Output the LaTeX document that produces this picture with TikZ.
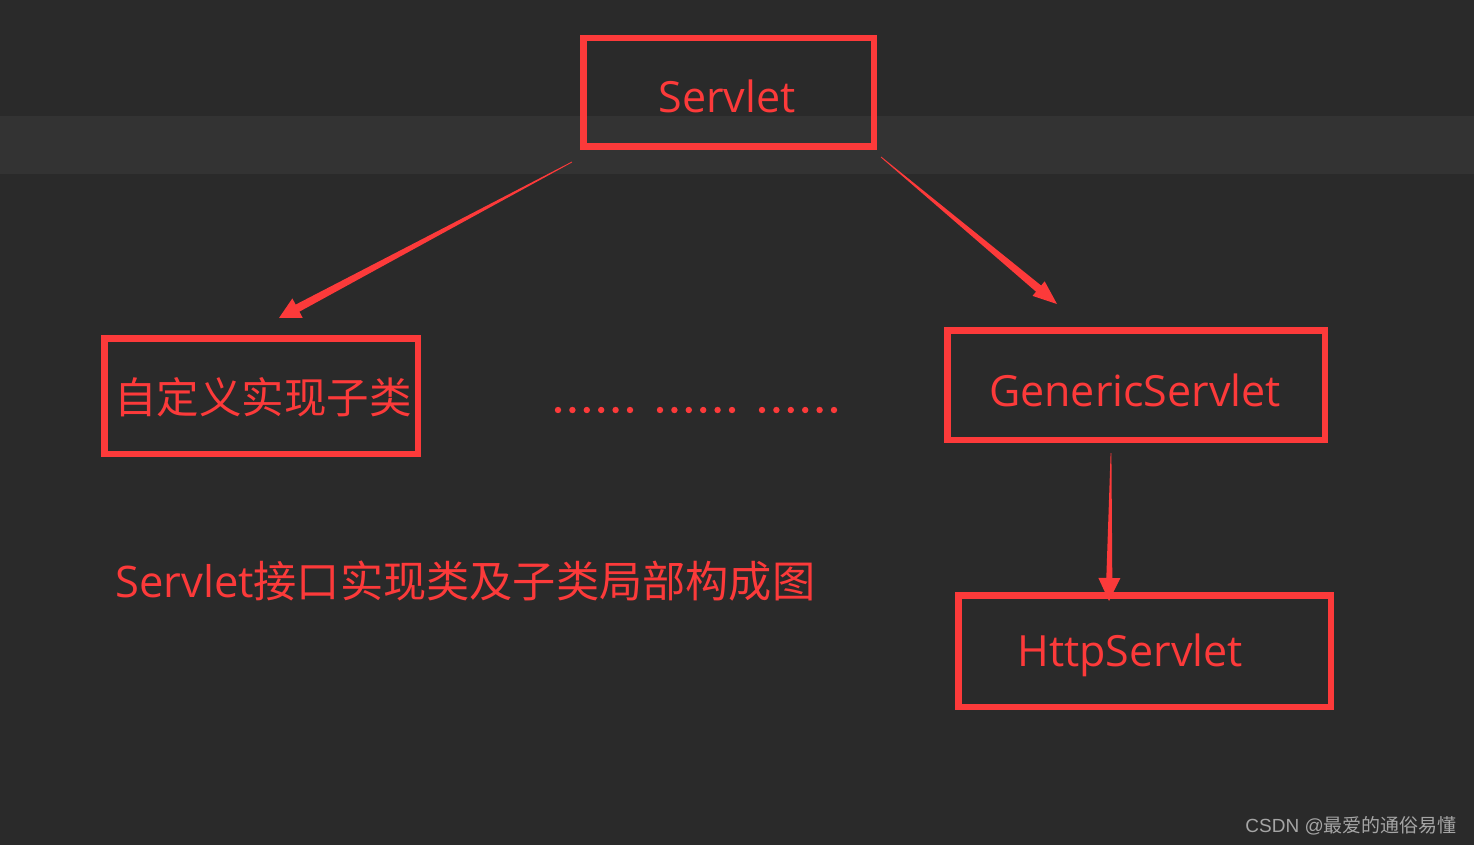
\documentclass[tikz,border=0pt]{standalone}
\usepackage{fontspec}
\setmainfont{Open Sans}
\newfontfamily\cjk{Noto Sans CJK SC}
\newfontfamily\wmlat{Liberation Sans}
\usetikzlibrary{calc}
\definecolor{bg}{RGB}{42,42,42}
\definecolor{bandc}{RGB}{51,51,51}
\definecolor{rd}{RGB}{252,58,58}
\definecolor{wm}{RGB}{165,165,165}
\newcommand\taperarrow[6]{%
  \coordinate (hb) at ($(#2)!#5!(#1)$);
  \fill[rd] ($(#1)!#3!90:(#2)$) -- ($(hb)!#4!90:(#2)$) -- ($(hb)!#6!90:(#2)$) -- (#2)
    -- ($(hb)!#6!-90:(#2)$) -- ($(hb)!#4!-90:(#2)$) -- ($(#1)!#3!-90:(#2)$) -- cycle;}
\begin{document}
\begin{tikzpicture}[x=1pt,y=-1pt,
  box/.style={draw=rd,line width=6.5pt,inner sep=0pt},
  lbl/.style={text=rd,font=\fontsize{43}{50}\selectfont,inner sep=0pt},
  cjklbl/.style={text=rd,font=\cjk\fontsize{42.5}{50}\selectfont,inner sep=0pt},
  dotc/.style={fill=rd}]
\fill[bg] (0,0) rectangle (1474,845);
\fill[bandc] (0,116) rectangle (1474,174);
\useasboundingbox (0,0) rectangle (1474,845);
% boxes
\node[box,minimum width=290.5pt,minimum height=108.5pt] (servlet) at (728.5,92.5) {};
\node[box,minimum width=313.5pt,minimum height=115.5pt] (custom) at (261,396) {};
\node[box,minimum width=377.5pt,minimum height=109.5pt] (generic) at (1136,385) {};
\node[box,minimum width=372.5pt,minimum height=111.5pt] (http) at (1144.5,651) {};
% labels
\node[lbl,anchor=base] (tservlet) at (727,113) {Servlet};
\node[cjklbl] (tcustom) at (263,397) {自定义实现子类};
\node[lbl,anchor=base] (tgeneric) at (1135,406) {GenericServlet};
\node[lbl,anchor=base] (thttp) at (1130,666) {HttpServlet};
\node[lbl,anchor=west,font=\fontsize{43.5}{50}\selectfont] (caption) at (115,581) {Servlet{\cjk\fontsize{43.2}{50}\selectfont 接口实现类及子类局部构成图}};
% dots
\foreach \gx in {558,660,762}{
  \foreach \i in {0,...,5}{
    \fill[dotc] ({\gx+\i*14.4},410) circle (3.2pt);
  }
}
% arrows
\coordinate (a1s) at (572,162);
\coordinate (a1t) at (279,318);
\coordinate (a2s) at (881,157);
\coordinate (a2t) at (1057,304);
\coordinate (a3s) at (1111,453);
\coordinate (a3t) at (1109,601);
\taperarrow{a1s}{a1t}{0.4pt}{4pt}{21pt}{11pt}
\taperarrow{a2s}{a2t}{0.4pt}{4pt}{24pt}{9.5pt}
\taperarrow{a3s}{a3t}{0.4pt}{3pt}{23pt}{11pt}
% watermark
\node[anchor=east,text=wm,inner sep=0pt,font=\wmlat\fontsize{19}{21}\selectfont] (wmark) at (1457,826) {CSDN @{\cjk 最爱的通俗易懂}};
\end{tikzpicture}
\end{document}
